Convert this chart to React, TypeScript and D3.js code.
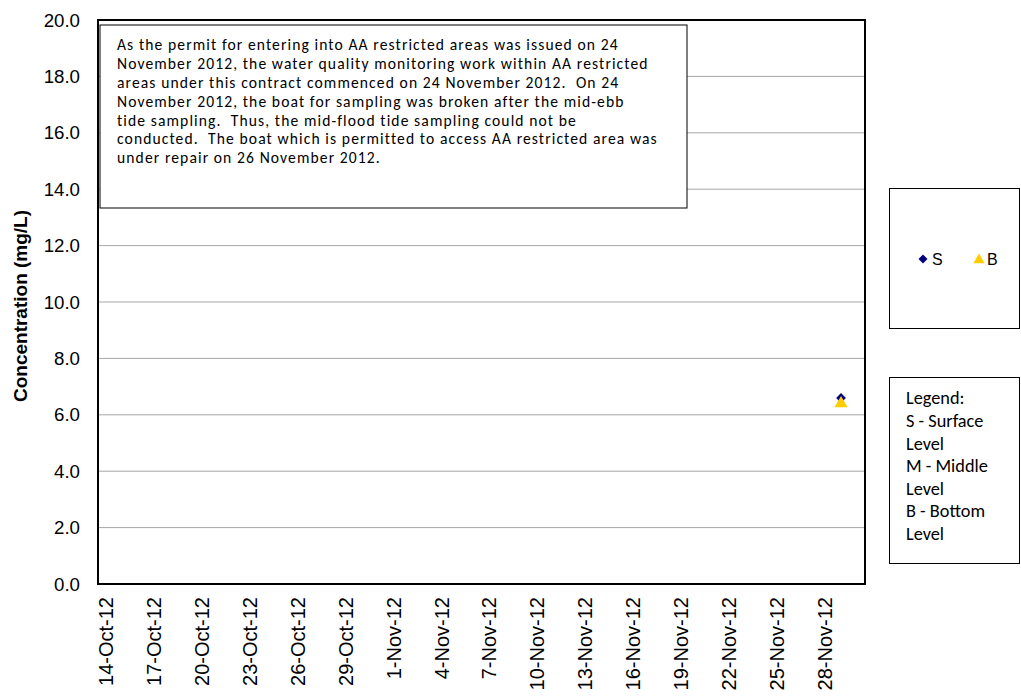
import * as d3 from 'd3';

// sampling dates and readings (mg/L)
const sampleDates = ['2012-11-29'];
const surfaceValues = [6.6];
const bottomValues = [6.4];

// x axis labels every 3 days
const tickDates = [
  '2012-10-14', '2012-10-17', '2012-10-20', '2012-10-23', '2012-10-26', '2012-10-29',
  '2012-11-01', '2012-11-04', '2012-11-07', '2012-11-10', '2012-11-13', '2012-11-16',
  '2012-11-19', '2012-11-22', '2012-11-25', '2012-11-28',
];
const yTicks = [0, 2, 4, 6, 8, 10, 12, 14, 16, 18, 20];

const noteLines = [
  'As the permit for entering into AA restricted areas was issued on 24',
  'November 2012, the water quality monitoring work within AA restricted',
  'areas under this contract commenced on 24 November 2012.  On 24',
  'November 2012, the boat for sampling was broken after the mid-ebb',
  'tide sampling.  Thus, the mid-flood tide sampling could not be',
  'conducted.  The boat which is permitted to access AA restricted area was',
  'under repair on 26 November 2012.',
];
const legendNotes = ['Legend:', 'S - Surface', 'Level', 'M - Middle', 'Level', 'B - Bottom', 'Level'];

const W = 1021;
const H = 698;
const margin = { top: 20, right: 156, bottom: 114, left: 98 };

const parse = d3.utcParse('%Y-%m-%d');
const fmt = d3.utcFormat('%-d-%b-%y');
const arial = 'Liberation Sans, Arial, sans-serif';
const calibri = 'Carlito, Calibri, Lato, sans-serif';

const App = () => {
  // date axis "between tick marks": half a day padding each side
  const x = d3
    .scaleUtc()
    .domain([new Date(Date.UTC(2012, 9, 13, 12)), new Date(Date.UTC(2012, 10, 30, 12))])
    .range([margin.left, W - margin.right]);
  const y = d3.scaleLinear().domain([0, 20]).range([H - margin.bottom, margin.top]);

  const square = d3.symbol().type(d3.symbolSquare).size(48)();
  const triangle = d3.symbol().type(d3.symbolTriangle).size(75)();

  const surface = sampleDates.map((d, i) => ({ date: parse(d), v: surfaceValues[i] }));
  const bottom = sampleDates.map((d, i) => ({ date: parse(d), v: bottomValues[i] }));

  return (
    <svg width={W} height={H} style={{ position: 'absolute', left: 0, top: 0, background: '#fff' }}>
      {/* gridlines */}
      {yTicks.slice(1, -1).map((t) => (
        <line key={t} x1={margin.left} x2={W - margin.right} y1={y(t)} y2={y(t)} stroke="#a6a6a6" strokeWidth={1} />
      ))}
      {/* y tick labels */}
      {yTicks.map((t) => (
        <text key={t} x={80} y={y(t)} dy="0.35em" textAnchor="end" fontFamily={arial} fontSize={18.7} fill="#000">
          {t.toFixed(1)}
        </text>
      ))}
      <text
        transform={`translate(27,${(margin.top + H - margin.bottom) / 2 + 4}) rotate(-90)`}
        textAnchor="middle"
        fontFamily={arial}
        fontWeight="bold"
        fontSize={19}
      >
        Concentration (mg/L)
      </text>
      {/* x tick labels */}
      {tickDates.map((d) => {
        const dt = parse(d);
        return (
          <text
            key={d}
            transform={`translate(${x(dt)},597) rotate(-90)`}
            textAnchor="end"
            dy="0.35em"
            fontFamily={arial}
            fontSize={20}
          >
            {fmt(dt)}
          </text>
        );
      })}
      {/* markers */}
      {surface.map((p, i) => (
        <path key={'s' + i} d={square} transform={`translate(${x(p.date)},${y(p.v)}) rotate(45)`} fill="#000080" />
      ))}
      {bottom.map((p, i) => (
        <path key={'b' + i} d={triangle} transform={`translate(${x(p.date)},${y(p.v)})`} fill="#ffcc00" />
      ))}
      {/* note box */}
      <rect x={100} y={25} width={587} height={183} fill="#fff" stroke="#000" strokeWidth={1} />
      {noteLines.map((l, i) => (
        <text
          key={i}
          x={117}
          y={45 + i * 18.8}
          dy="0.35em"
          fontFamily={calibri}
          fontSize={15.6}
          letterSpacing={1.1}
          xmlSpace="preserve"
        >
          {l}
        </text>
      ))}
      {/* plot frame */}
      <rect
        x={margin.left}
        y={margin.top}
        width={W - margin.right - margin.left}
        height={H - margin.bottom - margin.top}
        fill="none"
        stroke="#000"
        strokeWidth={2}
      />
      {/* series legend */}
      <rect x={889.5} y={188.5} width={130} height={140} fill="#fff" stroke="#000" strokeWidth={1} />
      <path d={d3.symbol().type(d3.symbolSquare).size(40)()} transform="translate(923,259) rotate(45)" fill="#000080" />
      <text x={932} y={259} dy="0.35em" fontFamily={arial} fontSize={16}>S</text>
      <path d={d3.symbol().type(d3.symbolTriangle).size(55)()} transform="translate(979,260)" fill="#ffcc00" />
      <text x={987} y={259} dy="0.35em" fontFamily={arial} fontSize={16}>B</text>
      {/* legend notes */}
      <rect x={889.5} y={377.5} width={130} height={186} fill="#fff" stroke="#000" strokeWidth={1} />
      {legendNotes.map((l, i) => (
        <text key={i} x={906} y={398 + i * 22.6} dy="0.35em" fontFamily={calibri} fontSize={18.3}>
          {l}
        </text>
      ))}
    </svg>
  );
};

export default App;
